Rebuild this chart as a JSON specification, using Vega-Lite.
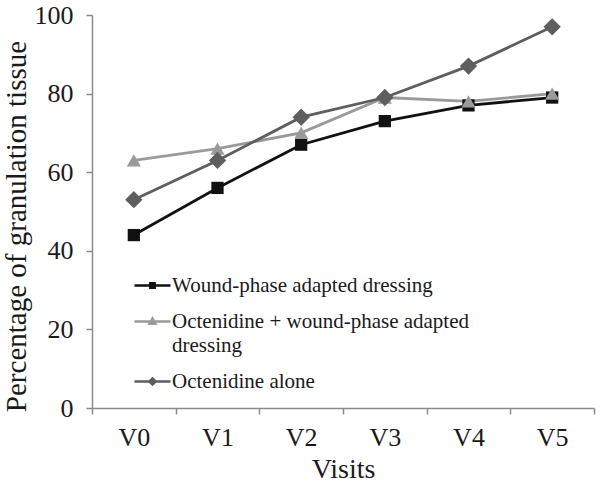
{
  "$schema": "https://vega.github.io/schema/vega-lite/v6.json",
  "autosize": "none",
  "width": 502,
  "height": 393,
  "padding": {"left": 92, "top": 15, "right": 8, "bottom": 77},
  "background": "white",
  "config": {
    "font": "Liberation Serif",
    "view": {"stroke": null},
    "axis": {"labelFont": "Liberation Serif", "titleFont": "Liberation Serif", "labelColor": "#1a1a1a", "titleColor": "#1a1a1a", "titleFontWeight": "normal", "domainColor": "#8a8a8a", "tickColor": "#8a8a8a", "domainWidth": 1.5, "tickWidth": 1.5, "grid": false},
    "legend": {"labelFont": "Liberation Serif", "labelFontSize": 21, "labelColor": "#1a1a1a", "labelLimit": 500}
  },
  "data": {
    "values": [
      {"visit": "V0", "series": "Wound-phase adapted dressing", "value": 44},
      {"visit": "V1", "series": "Wound-phase adapted dressing", "value": 56},
      {"visit": "V2", "series": "Wound-phase adapted dressing", "value": 67},
      {"visit": "V3", "series": "Wound-phase adapted dressing", "value": 73},
      {"visit": "V4", "series": "Wound-phase adapted dressing", "value": 77},
      {"visit": "V5", "series": "Wound-phase adapted dressing", "value": 79},
      {"visit": "V0", "series": "Octenidine + wound-phase adapted dressing", "value": 63},
      {"visit": "V1", "series": "Octenidine + wound-phase adapted dressing", "value": 66},
      {"visit": "V2", "series": "Octenidine + wound-phase adapted dressing", "value": 70},
      {"visit": "V3", "series": "Octenidine + wound-phase adapted dressing", "value": 79},
      {"visit": "V4", "series": "Octenidine + wound-phase adapted dressing", "value": 78},
      {"visit": "V5", "series": "Octenidine + wound-phase adapted dressing", "value": 80},
      {"visit": "V0", "series": "Octenidine alone", "value": 53},
      {"visit": "V1", "series": "Octenidine alone", "value": 63},
      {"visit": "V2", "series": "Octenidine alone", "value": 74},
      {"visit": "V3", "series": "Octenidine alone", "value": 79},
      {"visit": "V4", "series": "Octenidine alone", "value": 87},
      {"visit": "V5", "series": "Octenidine alone", "value": 97}
    ]
  },
  "encoding": {
    "x": {"field": "visit", "type": "nominal", "scale": {"type": "band", "paddingInner": 0, "paddingOuter": 0},
      "axis": {"title": "Visits", "labelAngle": 0, "labelFontSize": 26, "titleFontSize": 28, "tickBand": "extent", "tickSize": 6, "labelPadding": 10, "titlePadding": 5}},
    "y": {"field": "value", "type": "quantitative", "scale": {"domain": [0, 100]},
      "axis": {"title": "Percentage of granulation tissue", "values": [0, 20, 40, 60, 80, 100], "labelFontSize": 26, "titleFontSize": 29, "tickSize": 6, "labelPadding": 13, "titlePadding": 3, "titleY": 211}}
  },
  "layer": [
    {
      "mark": {"type": "line", "strokeWidth": 2.8},
      "encoding": {
        "color": {"field": "series", "type": "nominal",
          "scale": {"domain": ["Wound-phase adapted dressing", "Octenidine + wound-phase adapted dressing", "Octenidine alone"], "range": ["#111111", "#9a9a9a", "#5e5e5e"]},
          "legend": {
            "title": null, "orient": "none", "legendX": 41, "legendY": 251,
            "labelFont": "Liberation Serif",
            "symbolSize": 1296, "symbolStrokeWidth": 2.5, "rowPadding": 6, "labelOffset": 0,
            "labelExpr": "datum.label == 'Octenidine + wound-phase adapted dressing' ? ['Octenidine + wound-phase adapted', 'dressing'] : datum.label",
            "encode": {
              "symbols": {"update": {
                "shape": {"signal": "datum.value == 'Wound-phase adapted dressing' ? 'M-1,0H1M-0.12,-0.12H0.12V0.12H-0.12Z' : datum.value == 'Octenidine alone' ? 'M-1,0H1M0,-0.17L0.17,0L0,0.17L-0.17,0Z' : 'M-1,0H1M0,-0.16L0.16,0.12L-0.16,0.12Z'"},
                "fill": {"scale": "color", "field": "value"},
                "stroke": {"scale": "color", "field": "value"},
                "size": {"value": 1296},
                "opacity": {"value": 1}
              }},
              "labels": {"update": {"lineHeight": {"value": 24}, "font": {"value": "Liberation Serif"}}}
            }
          }
        }
      }
    },
    {
      "transform": [{"filter": "datum.series == 'Wound-phase adapted dressing'"}],
      "mark": {"type": "point", "filled": true, "opacity": 1, "shape": "square", "size": 150, "color": "#111111"}
    },
    {
      "transform": [{"filter": "datum.series == 'Octenidine + wound-phase adapted dressing'"}],
      "mark": {"type": "point", "filled": true, "opacity": 1, "shape": "triangle-up", "size": 200, "color": "#9a9a9a"}
    },
    {
      "transform": [{"filter": "datum.series == 'Octenidine alone'"}],
      "mark": {"type": "point", "filled": true, "opacity": 1, "shape": "diamond", "size": 300, "color": "#5e5e5e"}
    }
  ]
}
